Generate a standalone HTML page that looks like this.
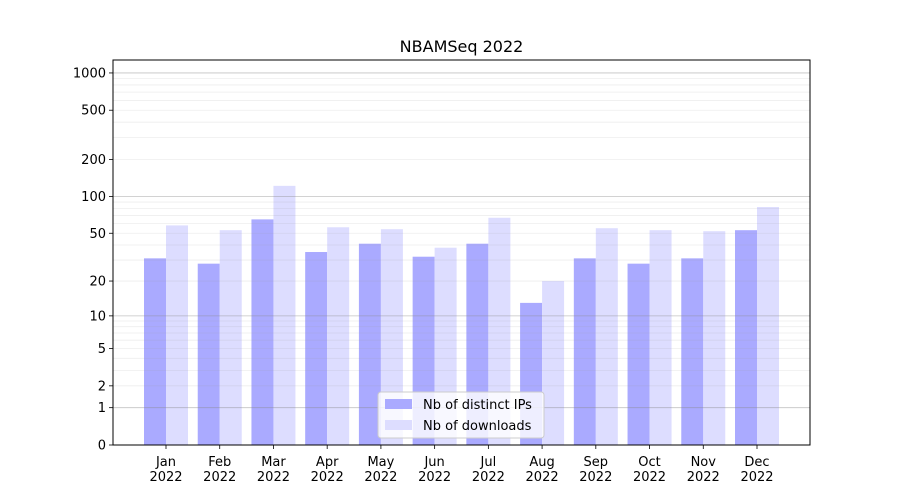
<!DOCTYPE html>
<html><head><meta charset="utf-8"><style>
body{margin:0;background:#fff;}
svg{display:block;font-family:"DejaVu Sans","Liberation Sans",sans-serif;}
</style></head><body>
<svg id="chart" width="900" height="500" xmlns="http://www.w3.org/2000/svg"></svg>
<script>
const months = ["Jan","Feb","Mar","Apr","May","Jun","Jul","Aug","Sep","Oct","Nov","Dec"];
const ipCounts = [31,28,65,35,41,32,41,13,31,28,31,53];
const downloadCounts = [58,53,122,56,54,38,67,20,55,53,52,82];
const tickValues = [0,1,2,5,10,20,50,100,200,500,1000];
const majorGrid = [1,10,100,1000];
const minorGrid = [2,3,4,5,6,7,8,9,20,30,40,50,60,70,80,90,200,300,400,500,600,700,800,900];

const NS="http://www.w3.org/2000/svg";
const svg=document.getElementById('chart');
const L=113,R=810,T=60,B=445;
const yS=v=>B-124*Math.log10(1+v);
const xS=i=>166+i*(757-166)/11;
const bw=22;
function mk(tag,attrs,parent){const e=document.createElementNS(NS,tag);for(const k in attrs)e.setAttribute(k,attrs[k]);(parent||svg).appendChild(e);return e;}

months.forEach((m,i)=>{
  const x=xS(i);
  const b1=mk('rect',{x:x-bw,y:yS(ipCounts[i]),width:bw,height:B-yS(ipCounts[i]),fill:'#aaaaff'});
  
  
  const b2=mk('rect',{x:x,y:yS(downloadCounts[i]),width:bw,height:B-yS(downloadCounts[i]),fill:'#ddddff'});
  
  
  mk('line',{x1:x,x2:x,y1:B,y2:B+4,stroke:'#000','stroke-width':0.8});
  const t=mk('text',{x:x,y:B+21,'text-anchor':'middle','font-size':13});
  t.textContent=m;
  
  
  const t2=mk('text',{x:x,y:B+36,'text-anchor':'middle','font-size':13});
  t2.textContent='2022';
  
  
});

const grid=mk('g',{});


minorGrid.forEach(v=>{const l=mk('line',{x1:L,x2:R,y1:yS(v),y2:yS(v),stroke:'#999','stroke-opacity':0.18,'stroke-width':0.8},grid);

});
majorGrid.forEach(v=>{const l=mk('line',{x1:L,x2:R,y1:yS(v),y2:yS(v),stroke:'#888','stroke-opacity':0.5,'stroke-width':0.8},grid);

});

tickValues.forEach(v=>{
  const y=yS(v);
  mk('line',{x1:L-4,x2:L,y1:y,y2:y,stroke:'#000','stroke-width':0.8});
  const t=mk('text',{x:L-7,y:y+4.5,'text-anchor':'end','font-size':13});
  t.textContent=v;
  
  
});

const frame=mk('rect',{x:L,y:T,width:R-L,height:B-T,fill:'none',stroke:'#000','stroke-width':1});



const title=mk('text',{x:(L+R)/2,y:52,'text-anchor':'middle','font-size':16});
title.textContent='NBAMSeq 2022';



const lg=mk('g',{});


mk('rect',{x:378,y:392,width:166,height:46,rx:3,fill:'#fff','fill-opacity':0.8,stroke:'#ccc'},lg);
mk('rect',{x:385,y:399,width:27,height:10,fill:'#aaaaff'},lg);
mk('rect',{x:385,y:420,width:27,height:10,fill:'#ddddff'},lg);
const l1=mk('text',{x:423,y:409,'font-size':13},lg);l1.textContent='Nb of distinct IPs';


const l2=mk('text',{x:423,y:430,'font-size':13},lg);l2.textContent='Nb of downloads';


</script>
</body></html>
